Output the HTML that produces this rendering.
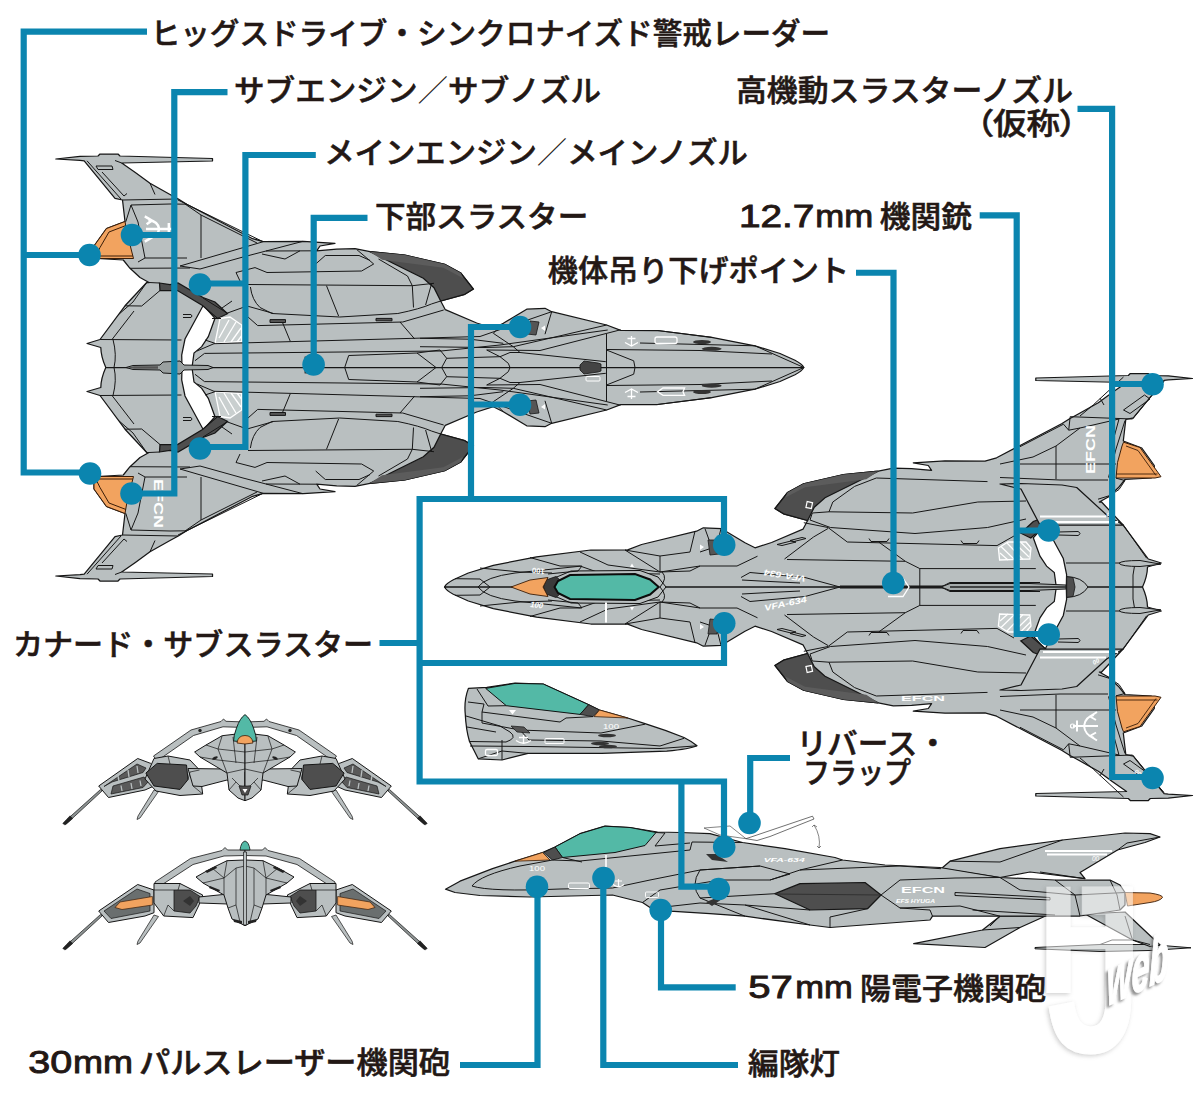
<!DOCTYPE html>
<html lang="ja">
<head>
<meta charset="utf-8">
<title>VFA-634 各部名称</title>
<style>
html,body{margin:0;padding:0;background:#fff;}
body{width:1200px;height:1103px;overflow:hidden;}
svg{display:block;}
.t{font-family:"Liberation Sans","Noto Sans CJK JP",sans-serif;font-weight:500;fill:#231815;stroke:#231815;stroke-width:0.55;}
.n{font-family:"Liberation Sans","Noto Sans CJK JP",sans-serif;font-weight:400;fill:#231815;stroke:#231815;stroke-width:0.9;}
.ld{fill:none;stroke:#0b85af;stroke-width:6.2;stroke-linejoin:miter;stroke-linecap:butt;}
.dot{fill:#0b85af;}
</style>
</head>
<body>
<svg width="1200" height="1103" viewBox="0 0 1200 1103">
<rect width="1200" height="1103" fill="#ffffff"/>
<!-- aircraft 1 : bottom view (top-left) -->
<defs>
<g id="hs">
<path fill="#b9bfc0" stroke="#161616" stroke-width="1.250" stroke-linejoin="round" d="M105.8 367.5Q101 357 100.8 347.5L87 343.5L100 339.5L125 305.8L146.7 282.5L149 282.5L140 277.5L130 268.3L123.3 260L97 258.5L94 252L94 246L106.5 228.5L125 221.5L122.5 200L115 198.3L84.2 160.8L80 160.3L55.8 159L80 156.3L98 156L100 154L118 154L120 156L212.5 158.5L212.5 161L121.7 163Q135 172 150 183.3L170 194.5L178.3 199L186.7 204.2L251.7 238.3L263.3 241.7L303.3 241.3L335 243.3L320 246L316.7 250.8L336.7 249.2L355 248.7L370 251.7L404.7 255L444.7 264.3L460.7 273L473.3 289L464.7 294.3L440.7 301L445.3 309.7L476.7 323L493.3 328.3L503.3 323.3L526.7 309.2L545 308.3L551.7 311.7L606.7 325L620.7 330.4L657.5 330.5L711.7 337.3L755 345.8L780 353.5L795 360.3Q802 364 803.8 367.5Z"/>
<!-- white gap -->
<path fill="#fff" stroke="#161616" stroke-width="1.250" d="M203.3 305.3L215 318.3L208.3 336.7L201.7 346.7L194 353L192 367.5L182 367.5L181.7 355L185 339Z"/>
<!-- dark strip -->
<path fill="#4e4e4e" stroke="#161616" stroke-width="1.250" d="M159.500 283L170 284.500L178 283L203 297.500L215 302L227.500 313.700L217.500 318.500L202.500 305.500L177.500 290.500L160 290.500Z"/>
<!-- nacelle dark tip -->
<path fill="#4e4e4e" stroke="#161616" stroke-width="1.250" d="M370 251.7L404.7 255L444.7 264.3L460.7 273L473.3 289L464.7 294.3L440.7 301L434 287.7L423.3 278.3L394 263.7Z"/>
<path fill="#5c5c5c" d="M370 251.7L404.7 255L444.7 264.3L460.7 273L463.3 278.3L443.3 267.7L382 259.7Z"/>
</g>
<g id="a1l">
<!-- orange pod -->
<path fill="#f2a35f" stroke="#3a1d08" stroke-width="1" d="M97 258.500L94 252L94 246L106.500 228.500L125 221.500L127 233L133.500 258.500Z"/>
<path fill="none" stroke="#3a1d08" stroke-width="1" d="M97 253.500L100 247.500L109 232L126 225.500M95 256L132.800 256"/>
<!-- hatched panel -->
<path fill="#c9cfcf" stroke="#fff" stroke-width="1.300" d="M220 318.500L230 317L241.700 325L241.700 341.500L215 343.300Z"/>
<path fill="none" stroke="#fff" stroke-width="1.300" d="M219 338L229 320M224 342L236 322M231 342L241 328M237 342L241.500 336"/>
<!-- panel lines -->
<g fill="none" stroke="#161616" stroke-width="1">
<path d="M87 160.800L121 199M121.700 163L115 160.500M96 166L112 166L113 169.500L98 169.500ZM102 172L124 196L127 193.500M150 183.300L155 194.500M122.500 200L178 199"/>
<path d="M125.800 221.700L131 205L170 204L186.700 204.200M131 205L138 222L145 258L138 262M145 258L187 258M185 204L201 215L201 258M130 268.300L190 268M149 282.500L159.500 283"/>
<path d="M178 200L263 241.700M201 215L257 243M180 266L263.300 241.700M180 266L200 269L243 257L266 251L303 241.300M266 251L316.700 250.800M262 254L285 259L300 250.800"/>
<path d="M236 272.500L255 267.600L267 272.500L361.600 271L373.700 264L356.700 249.500M315.700 264L325.300 255.500L359 255.500L370 260.400M236 272.500L240 281M248 284.500L412.300 285.700L434 283.300M250.400 287Q252 300 260 307.500L272 313.500L339.800 317L397.800 313.500Q420 309 431.700 303.900L440.700 301M326.500 285.700L338.600 316M378.500 259L407.500 276L412.300 285.700L413.500 307.500M431.700 283.300L425.600 305M248 317L257.700 325.600L402.700 322L443.700 310M281.800 320.800L290.300 341.300M400 322L414.700 339"/>
<path fill="#555" d="M270 319.600H285.500V322.500H270ZM376 318.400H392V320.800H376Z"/>
<path d="M197 351L214 343.700L480 336.500L551.700 311.700M195 360.700L204.500 353.400L441 351L500 345L607.700 330M190 367.500L803.800 367.500"/>
<path d="M125 305.800L141.700 306L160 290.500M118 315L133 302L146.700 282.500M100 339.500L181.500 340M113 339.500Q117 355 114 367.500M134 311L112 339.500M203 298L227 313M222 308L232 301"/>
<path d="M183 314.500L191 314.500Q193 316 191 317.500L183 317.500"/>
<path d="M226.700 313.300L247 306L273 313.300M212 318.500L221 318.500M205 340L215 343.300"/>

<path d="M344.700 367.500L348.700 355.500L417 353L436 367.500M417 353L440 350L446.700 358.300L500 356.700L508.300 363.300L510 367.500M441.700 367.500L446.700 358.300M500 356.700L510 352.500L520 352.500L605.800 361.700M486.700 350L500 356.700M513.300 346.700L520 352.500"/>
<path d="M503.300 323.300L493.300 333.300L513.300 346.700L606.700 325M551.700 311.700L545 334.200M420 338.300L470 339.200L503.300 343.300M420 346.700L485 347.500L513.300 346.700M606.500 334L606.500 367.500M620.500 329.800L540 350.500L486.700 350M606.500 350L633.700 360.800L635 367.500M606.500 349.500L700 350.500L772 354M657.500 330.500L711.700 337.300M640 343L755 345.800M755 345.800L803.800 367.500"/>
</g>
<!-- canard thruster slot -->
<path fill="#555" stroke="#161616" stroke-width="0.800" d="M530 321L539 322L536 335L527 334Z"/>
<path fill="#fff" d="M541 328L545 325.500L545 331Z"/>
</g>
</defs>
<use href="#hs"/><use href="#hs" transform="matrix(1 0 0 -1 0 735)"/>
<use href="#a1l"/><use href="#a1l" transform="matrix(1 0 0 -1 0 735)"/>
<!-- centre probe -->
<path fill="#9aa0a0" stroke="#161616" stroke-width="1" d="M126 367.500L133 365.500L160 365L163 362L180 361L184 365L208 365.500L213 367.500L208 369.500L184 370L180 374L163 373L160 370L133 369.500Z"/>
<path fill="#555" d="M128 367.500L134 366.300L158 366.300L158 368.700L134 368.700Z"/>
<!-- markings -->
<g fill="#fff" font-family="Liberation Sans,sans-serif" font-weight="700">
<text x="0" y="0" font-size="12" transform="translate(153.700 479) rotate(90)" textLength="49" lengthAdjust="spacingAndGlyphs">EFCN</text>

</g>
<rect x="305" y="357" width="12" height="16" fill="#555" stroke="#161616" stroke-width="0.800"/>
<g fill="#333"><ellipse cx="702" cy="342" rx="9" ry="2"/><ellipse cx="711.700" cy="348.800" rx="10" ry="2"/><ellipse cx="711.700" cy="385.700" rx="10" ry="2"/><ellipse cx="702" cy="392" rx="9" ry="2"/></g>
<g fill="none" stroke="#fff" stroke-width="1.300"><path d="M631.500 336V346M627.500 338.500H635.500M625 342.500L631.500 346L638 342.500M631.500 389V399M627.500 396.500H635.500M625 392.500L631.500 389L638 392.500"/>
<rect x="655" y="337" width="22" height="6.500" rx="2"/><path d="M657.500 391.700L663 388H684.600L683 391.700L684.600 395.400H663Z"/><rect x="586" y="376.500" width="14" height="4.500" rx="1" stroke-width="1"/></g>
<path fill="#444" stroke="#161616" stroke-width="0.800" d="M580 365L584 361L598 363L601 364L601 371L598 372L584 374L580 370Z"/>
<g fill="none" stroke="#fff" stroke-width="2" transform="translate(158 229) scale(1.2) translate(-156 -236)"><path d="M146 236H168M165 231V241M148 228.500Q156 229.500 157 236Q156 242.500 148 243.500M145 225.500L151 229L146.500 232M145 246.500L151 243L146.500 240"/></g>
<!-- aircraft 2 : top view (right) -->
<defs>
<g id="a2l">
<!-- second fin -->
<path fill="#b9bfc0" stroke="#161616" stroke-width="1.250" stroke-linejoin="round" d="M1000 484L1021 483.500L1062 485L1076.700 487.500L1106.700 515L1123.300 525L1040 525L1021 489Z"/>
<path fill="none" stroke="#fff" stroke-width="2.200" d="M1040 516.500L1106 516.500M1043 522L1118 522"/>
<!-- bigger orange pod -->
<path fill="#f2a35f" stroke="#3a1d08" stroke-width="1" stroke-linejoin="round" d="M1123.500 442.200L1140 447.500L1161 476.700L1155 478L1116 478L1117.500 462.500L1122 446Z"/>
<path fill="none" stroke="#3a1d08" stroke-width="0.900" d="M1126 446L1138 450.500L1156 475.500M1116.500 474L1157.500 474"/>
<!-- hatched panel -->
<path fill="#c9cfcf" stroke="#fff" stroke-width="1.300" d="M998.400 548L1008 542L1026 542L1031 548L1029.800 559L999.600 560Z"/>
<path fill="none" stroke="#fff" stroke-width="1.200" d="M1000 553L1008 560M1001 546.500L1015 560M1007 543L1023 559.500M1014 542.500L1029 557M1021 542.500L1030.500 552"/>
<rect x="806.500" y="502" width="5.500" height="6" fill="none" stroke="#fff" stroke-width="1.200" transform="rotate(12 809 505)"/>
<!-- panel lines -->
<g fill="none" stroke="#161616" stroke-width="1">
<path d="M1123.500 377L1093.500 404.700L1080 416M1164 381.500L1150.500 397L1132.500 419M1123.500 410L1144.500 395L1150 399L1130 413.500ZM1100 398L1104 405"/>
<path d="M1070.200 416.700L1132.500 419M1070.200 416.700L1068.700 430.200L1063.500 424.200L1020 446.700M1068.700 430.200L1080 428L1119 419M1125 420.500L1116 449L1108.500 477.500M1119 419L1113 441L1110 462M1080 428L1056 446L1056 479M1020 464L1116 464M1056 446L1033 457L1000 464"/>
<path d="M1116 478.200L1125 480.500L1119 489.500L1110 495.500L1098 499.200M1000 477.500L1060 480L1108 480"/>
<path d="M854.600 486.400L876.300 478L987.500 481.600M854.600 486.400L832.800 502L829 511.800L912.600 513L977.800 502L1026 501M829 511.800L812.300 513L810 520M810 520L830.400 527.500L915 533.500L987.500 527.500L1026 519M803.800 522.700L828 527.500L847.300 542L997 545.600L1014 536M784.500 559L813.500 537L828 528.500M878.700 542L905.300 561.300M777 544.500L791 541L796 542L782 545.500ZM790 540.500L802 537.500L806 538.500L794 541.500ZM869 538.500L871 541.500L887 541.500L889 538.500M961 540.500L963 543.500L977 543.500L979 540.500"/>
<path d="M787 559.500L905.300 561.300L919.800 568.600L919.800 587M919.800 568.600L1035.800 568.600M757.500 556.200L737 566L700 566L660 572M741 577.500L750 572.500L805 577.500L840 587M742 580L760 581L800 583M840 587L941 587M941 587L950 582.500L1040 582.500M840 586L1066 586"/>

<path d="M705 528.700L712 548L700 552M721 528.700L716 548M695 531.200L690 552L660 556L625 550M660 556L660 572L690 571L700 566M625 550L660 572M580 552L608 565L660 572M530 557.500L560 566L580 566L600 573L660 574M480 568L520 572L552 573M455 578.700L480 579L490 587"/>
<path d="M1123.300 525L1146.700 558.300M1146.700 563L1066 563M1135 563Q1132 575 1133 587"/>
<path d="M1119 563.300Q1121 560.500 1140 560.500L1160.800 564.200L1140 566.500Q1121 566.500 1119 563.300Z" fill="#b9bfc0"/>
<path d="M1058 532L1078 531.500Q1082 533.500 1078 535.500L1058 535"/>
</g>
<path fill="#555" stroke="#161616" stroke-width="0.800" d="M708 540L717 540L719 554L710 555Z"/>
<path fill="#fff" d="M704 547L700 544.500L700 550Z"/>
<path fill="#fff" d="M630 567L634 567L632 563.500Z"/>
</g>
</defs>
<use href="#hs" transform="matrix(-1 0 0 1 1248.300 219.500)"/><use href="#hs" transform="matrix(-1 0 0 -1 1248.300 954.500)"/>
<use href="#a2l"/><use href="#a2l" transform="matrix(1 0 0 -1 0 1174)"/>
<!-- canopy -->
<path fill="#b9bfc0" stroke="#111" stroke-width="1" d="M548 587L552 579L571 571L640 570.500L658 577L666 587L658 597L640 603.500L571 603L552 595Z"/>
<path fill="#3a3a3a" stroke="#111" stroke-width="0.800" d="M543.500 587L546 580L556 576.500L560 580L555 587L560 594L556 597.500L546 594Z"/>
<path fill="#53b9a6" stroke="#0c0c0c" stroke-width="2" d="M554.500 587L558 581L570 575L635 574L650 579.500L658.700 587L650 594.500L635 600L570 599L558 593Z"/>
<path fill="#f2a35f" stroke="#3a1d08" stroke-width="0.900" d="M511 587L530 580L548 577.500L543 587L548 596.500L530 594Z"/>
<path fill="none" stroke="#161616" stroke-width="1" d="M478 587Q485 577 515 573L582 566L578 571L548 574M478 587Q485 597 515 601L582 608L578 603L548 600M660 587Q668 578 662 572M660 587Q668 596 662 602"/>
<!-- centre probe & dark cap -->
<path fill="#a5abab" stroke="#161616" stroke-width="1" d="M941 587L950 583.500L1030 583.500L1066 585L1066 589L1030 590.500L950 590.500Z"/>
<path fill="none" stroke="#222" stroke-width="1.600" d="M950 587L1066 587"/>
<path fill="#b9bfc0" stroke="#161616" stroke-width="1" d="M1066.700 576.700Q1082 577 1088 587Q1082 597 1066.700 597.300Z"/>
<path fill="#4e4e4e" stroke="#161616" stroke-width="0.800" d="M1066.700 576.700L1073 577.500L1075 587L1073 596.500L1066.700 597.300Z"/>
<!-- hoist point -->
<path fill="none" stroke="#fff" stroke-width="1.300" d="M888 578.500H903L909 587L903 596.500H888"/>
<!-- markings -->
<path fill="none" stroke="#fff" stroke-width="2" d="M606 602.500V622.500"/>
<g fill="#fff" font-family="Liberation Sans,sans-serif" font-weight="700" font-style="italic">
<text font-size="8.500" transform="translate(806 576) rotate(189)" textLength="42" lengthAdjust="spacingAndGlyphs">VFA-634</text>
<text font-size="8.500" transform="translate(765 611) rotate(-12)" textLength="43" lengthAdjust="spacingAndGlyphs">VFA-634</text>
</g>
<g fill="#fff" font-family="Liberation Sans,sans-serif" font-weight="700">
<text font-size="12" transform="translate(1094.500 474) rotate(-90)" textLength="49" lengthAdjust="spacingAndGlyphs">EFCN</text>
<text font-size="7.500" x="901" y="700.500" textLength="44" lengthAdjust="spacingAndGlyphs">EFCN</text>
<text font-size="6" font-style="italic" transform="translate(1157 415) rotate(-50)">00</text>
<text font-size="6" font-style="italic" transform="translate(1106 515) rotate(35)">00</text>
<text font-size="6" font-style="italic" transform="translate(1094 665) rotate(-30)">00</text>
<text font-size="6" font-style="italic" transform="translate(1134 772) rotate(40)">00</text>
<text font-size="8" transform="translate(545 569) rotate(186)" textLength="13" lengthAdjust="spacingAndGlyphs">100</text>
<text font-size="8" font-style="italic" transform="translate(530 607) rotate(6)" textLength="13" lengthAdjust="spacingAndGlyphs">100</text>
</g>
<!-- anchor mark -->
<g fill="none" stroke="#fff" stroke-width="2"><path d="M1073 726H1098M1077 720.500V731.500M1094 715Q1085 717 1084 726Q1085 735 1094 738M1097 712L1090 716.500L1096 720M1097 740.500L1090 736L1096 732.500"/></g>
<circle cx="1072.500" cy="726" r="2" fill="none" stroke="#fff" stroke-width="1.200"/>
<!-- aircraft 3 : cockpit close-up -->
<g stroke-linejoin="round">
<path fill="#b9bfc0" stroke="#161616" stroke-width="1.250" d="M468.400 688.400Q464 700 465.200 713.300Q466 730 469.500 741.500L478.200 758.800L502 760L528 753.400L601.700 753.400L666.700 751.200Q690 749 697 745.800Q692 741.500 684 737.500Q665 730 645 723.700L627.700 718L599.500 710L588.700 704.700L543.200 684L515 683L486.800 687.300Z"/>
<path fill="#53b9a6" stroke="#111" stroke-width="1" d="M485.700 688.400L515 683.400L543.200 684L588.700 704.700L580 714.400L506.300 705.700Z"/>
<path fill="#4e4e4e" stroke="#111" stroke-width="0.800" d="M588.700 704.700L599.500 710L593 716.600L580 714.400Z"/>
<path fill="#f2a35f" stroke="#3a1d08" stroke-width="0.800" d="M599.500 710L627.700 718L594 716.600Z"/>
<g fill="none" stroke="#161616" stroke-width="1">
<path d="M477 689L488 706L506.300 705.700M468 702L484 704L482 712L560 722L566 718L593 716.600M482 712L482 723L520 730L601 733L645 724.200M466 716L500 726L510 732Q518 738 506 742L469.500 741.500M467 727L496 732M520 730L529 740L601 741L660 746L684 738.300M470 746L530 746.500L660 748.500L697 745.800M502 760L502 740M478.200 758.800L502 751L528 753.400"/>
</g>
<path fill="#555" stroke="#161616" stroke-width="0.700" d="M511 726L524 727L530 733L517 732Z"/>
<ellipse cx="607" cy="735.500" rx="9" ry="1.800" fill="#333"/><ellipse cx="600" cy="743.500" rx="9" ry="1.800" fill="#333"/><ellipse cx="608" cy="746.500" rx="9" ry="1.800" fill="#333"/>
<path fill="#fff" d="M509 710L516 710L512.500 714.500Z"/>
<rect x="485.500" y="749.500" width="12" height="6" rx="1.500" fill="none" stroke="#fff" stroke-width="1.300"/>
<rect x="545" y="738.500" width="19" height="5" rx="1" fill="none" stroke="#fff" stroke-width="1"/>
<g fill="none" stroke="#fff" stroke-width="1.300"><path d="M523.500 735V743M519 737.500H528M516 740.500Q523.500 746 531 740.500"/></g>
<text x="603" y="728.500" font-family="Liberation Sans,sans-serif" font-size="8" fill="#fff" textLength="16" lengthAdjust="spacingAndGlyphs">100</text>
</g>
<!-- aircraft 4 : side view -->
<g stroke-linejoin="round">
<!-- blade -->
<path fill="#b9bfc0" stroke="#161616" stroke-width="1" d="M1035 947.500L1100 944.500L1150 944.500L1191 947.800L1150 950.500L1100 951.500L1035 948.800Z"/>
<!-- ventral fin -->
<path fill="#b9bfc0" stroke="#161616" stroke-width="1.250" d="M1000 916.200L1045 916.200L1020 927.500L985 947.500L913.700 943.700L982.500 930Z"/>
<!-- tail lower fin -->
<path fill="#b9bfc0" stroke="#161616" stroke-width="1.250" d="M1085 914L1125 912L1160 945L1150 946.500L1132.500 940Z"/>
<!-- upper fin -->
<path fill="#b9bfc0" stroke="#161616" stroke-width="1.250" d="M941.200 868.700L950 861.200L1000 848.700L1062.500 840L1125 833L1150 833.700L1160 837L1145 842.500L1117.500 850L1080 872.500L1085 878.700L1030 872L1000 877.500Z"/>
<!-- body -->
<path fill="#b9bfc0" stroke="#161616" stroke-width="1.250" d="M445.500 889.200L460 881.200L492.500 868.700L515 861.200L542.500 852.500L555 847L580 833.700L605 826.200L630 827.500L657.500 832L680 832.500L710 833.700L742.500 842.500L785 848.700L835 857.500L842.500 860L885 865L940 867.500L1000 877.500L1055 880L1110 880L1120 885L1125 892.500L1125 905L1120 910L1080 916L1000 916.200L932.500 916.200L930 920L830 927.500L810 925L745 916.200L710 913.700L670 911.200L650 907.500L642.500 902.500L612.500 895L530 897L480 895.500L455 892.500Z"/>
<!-- orange nozzle -->
<path fill="#f2a35f" stroke="#3a1d08" stroke-width="0.900" d="M1125 892.500L1150 893Q1163 895 1162.500 897.500Q1160 901 1150 902.500L1127.500 906Z"/>
<!-- canopy -->
<path fill="#53b9a6" stroke="#111" stroke-width="1" d="M555 847L580 833.700L605 826.200L630 827.500L656 832.500L645 845.500L615 852.500L562.500 857.500Z"/>
<path fill="#4e4e4e" stroke="#111" stroke-width="0.800" d="M543.700 852.500L555 847L562.500 857.500L552.500 860Z"/>
<path fill="#f2a35f" stroke="#3a1d08" stroke-width="0.800" d="M515 861.200L542.500 852.500L550 860Z"/>
<!-- dark intake -->
<path fill="#4e4e4e" stroke="#161616" stroke-width="1.250" d="M775 893.700L800 883.700L865 882.500L881 895L867.500 908.700L810 910Z"/>
<path fill="none" stroke="#2a2a2a" stroke-width="0.800" d="M775 894L881 895"/>
<g fill="none" stroke="#161616" stroke-width="1">
<path d="M472 886Q480 875 520 866L552.500 860L580 861L600 859L690 850L692 842L742.500 842.500M472 886Q490 892 560 889L612.500 888L650 880L700 870L760 866M656 832.500L665 833L655 846L690 843M562.500 857.500L582 862"/>
<path d="M642.500 902.500L660 890L720 880L770 880L800 870L842.500 860M700 870Q690 885 700 898L745 916.200M700 870L760 866L790 874L770 880M700 898L775 893.700M660 907.500L700 903L745 905L810 925"/>
<path d="M800 870L900 866L941 868.700M881 895L900 880L955 878L1000 877.500M881 895L900 908L930 910L932.500 916.200M867.500 908.700L830 917L830 927.500M810 910L745 905M900 908L960 906L1000 916.200"/>
<path d="M955 892.500L1050 897.500L1050 900L955 895.500ZM972.500 910L1055 915M1055 880L1075 895L1080 916M1075 895L1125 892.500M1110 880L1117 895L1120 910M1000 877.500L1020 890L1075 895"/>
<path d="M950 861.200L1000 862L1062.500 840M1117.500 850L1127 843L1160 837M1040 872L1085 878.700M982.500 930L1020 927.500M1000 916.200L990 926"/>
<path d="M1132.500 940L1125 916M1100 944.500L1112 940L1132.500 940L1150 944.500"/>
</g>
<!-- reverse flap outline -->
<path fill="#fff" stroke="#333" stroke-width="0.700" d="M746 838.700L812.500 816.200L814 819L770 836.500L757 840.500Z"/>
<path fill="none" stroke="#333" stroke-width="0.600" d="M704 828L730 826L746 838.700L720 835ZM814 825Q821 836 819 848M812 827L814 825L817 827M817 846L819 848L821 846"/>
<!-- thruster slits -->
<path fill="#333" d="M706 854L716 854L728 862L712 860ZM706 902L716 898L722 899L712 906Z"/>
<!-- fin stripes -->
<path fill="none" stroke="#fff" stroke-width="1.800" d="M1045 851L1112 851M1047 854.500L1107 854.500"/>
<path fill="none" stroke="#fff" stroke-width="1.600" d="M606 855V867"/>
<g fill="#fff" font-family="Liberation Sans,sans-serif" font-weight="700">
<text x="901" y="892.500" font-size="8.500" textLength="44" lengthAdjust="spacingAndGlyphs">EFCN</text>
<text x="896" y="902.500" font-size="5.500" font-style="italic" textLength="39" lengthAdjust="spacingAndGlyphs">EFS HYUGA</text>
<text x="763.700" y="861.500" font-size="5.500" font-style="italic" textLength="41" lengthAdjust="spacingAndGlyphs">VFA-634</text>
<text x="1092" y="861" font-size="6.500" font-style="italic" font-weight="400">00</text>
<text x="529" y="870.700" font-size="8" font-weight="400" textLength="16" lengthAdjust="spacingAndGlyphs">100</text>
</g>
<rect x="645.500" y="892" width="13" height="5.500" rx="1" fill="none" stroke="#fff" stroke-width="0.900"/>
<rect x="568.500" y="883" width="21" height="5.500" rx="1.500" fill="none" stroke="#fff" stroke-width="1"/>
<g fill="none" stroke="#fff" stroke-width="1.200"><path d="M618.500 879V887M615 881H622M613 884.500Q618.500 889 624 884.500"/></g>
</g>
<!-- aircraft 5 : front view -->
<defs>
<g id="a5h" stroke-linejoin="round">
<!-- arm -->
<path fill="#b9bfc0" stroke="#161616" stroke-width="0.800" d="M245 722L226 721.300L223.500 719L221 721.500L191 730L153.500 756L157 761L193.500 735.500L223 726.800L245 727.500Z"/>
<circle cx="200" cy="730.500" r="1.700" fill="#222"/>
<!-- probes -->
<path fill="#8d9393" stroke="#161616" stroke-width="0.700" d="M100.500 789.500L67 819.500L63 823.500L65 825L69 821.500L102 791Z"/>
<path fill="#222" d="M70 815.500L73 818.500L66 824.500L62.500 823.500Z"/>
<path fill="#b9bfc0" stroke="#161616" stroke-width="0.700" d="M154 790L138 816L137 819.500L140 818L158.500 791.500Z"/>
<!-- outer pod -->
<path fill="#b9bfc0" stroke="#161616" stroke-width="1" d="M98.700 786L137.700 758.500L150.700 763.400L158 770L154 786L145 790L108.500 797.500Z"/>
<path fill="#5a5a5a" stroke="#161616" stroke-width="0.700" d="M104 786.500L137 764L146 768L143 772.500L112 782ZM113 786L144 777L148 782L143 787.500L111 794Z"/>
<path fill="none" stroke="#b9bfc0" stroke-width="1.300" d="M118 776L119 781M128 770L129 777M137 766L138 773M121 785.500L122 791M131 783L132 789M140 780.500L141 786"/>
<!-- nacelle -->
<path fill="#b9bfc0" stroke="#161616" stroke-width="1" d="M154 758.500L168 756L190 760L199.500 770L202.700 794L180 795.500L156 791L145 779Z"/>
<path fill="#4e4e4e" stroke="#161616" stroke-width="1" d="M145.900 773L157.200 763.400L186.500 765L188 779.600L180 789.400L154 786Z"/>
<!-- wing root -->
<path fill="#b9bfc0" stroke="#161616" stroke-width="1" d="M188 768.500L227 769L245 772L245 790L227 780L202 786.500L193 786Z"/>
<!-- fuselage -->
<path fill="#b9bfc0" stroke="#161616" stroke-width="1" d="M245 733L222.200 735.700L206 745L194.600 752L200 757L227 773L229 790L238 798L245 800.700Z"/>
<g fill="none" stroke="#161616" stroke-width="0.700">
<path d="M222.200 735.700L218 749L227 773M206 745L218 749L245 752M200 757L218 760L245 763M233 737L236 763M227 773L245 769M232 778L240 786L245 787M229 790L236 782"/>
<path d="M199.500 770L190 772L188 779.600M168 756L170 764M202.700 794L193 786"/>
</g>
<ellipse cx="215" cy="758" rx="3" ry="1.300" fill="#222" transform="rotate(-25 215 758)"/>
</g>
</defs>
<use href="#a5h"/><use href="#a5h" transform="matrix(-1 0 0 1 490 0)"/>
<path fill="#53b9a6" stroke="#111" stroke-width="0.900" d="M245 714.600Q240 718 236.500 728Q233.500 736 233.600 741L245 742L256.400 741Q256.500 736 253.500 728Q250 718 245 714.600Z"/>
<path fill="#f2a35f" stroke="#3a1d08" stroke-width="0.800" d="M237 743Q238 735.500 245 735.500Q252 735.500 253 743Q245 745 237 743Z"/>
<path fill="#4e4e4e" stroke="#161616" stroke-width="0.700" d="M239 786L251 786L248 795L242 795Z"/>
<path fill="#fff" d="M242.500 789L247.500 789L245 793Z"/>
<!-- aircraft 6 : rear view -->
<defs>
<g id="a6h" stroke-linejoin="round">
<!-- arch -->
<path fill="#b9bfc0" stroke="#161616" stroke-width="0.800" d="M245 850L227.500 850L225 847.500L222 850.500L190.500 858.500L155 882L155 893L160 893L160 886L193 864.500L224 856L245 855.500Z"/>
<!-- probes -->
<path fill="#8d9393" stroke="#161616" stroke-width="0.700" d="M100.500 914.500L67 944.500L63 948.500L65 950L69 946.500L102 916Z"/>
<path fill="#222" d="M70 940.500L73 943.500L66 949.500L62.500 948.500Z"/>
<path fill="#b9bfc0" stroke="#161616" stroke-width="0.700" d="M154 915L138 941L137 944.500L140 943L158.500 916.500Z"/>
<!-- outer pod -->
<path fill="#b9bfc0" stroke="#161616" stroke-width="1" d="M98.700 911L137.700 884.500L154 890L154 912.700L145 916L108.500 922.500Z"/>
<path fill="#6a6f6f" stroke="#161616" stroke-width="0.700" d="M104 911L137 889L150 893.500L150 911L111 918.500Z"/>
<path fill="#f2a35f" stroke="#3a1d08" stroke-width="0.700" d="M120 902L152.400 896.500L152.400 905L122 909.500L115 907.500Z"/>
<!-- nacelle -->
<path fill="#b9bfc0" stroke="#161616" stroke-width="1" d="M154 883.500L180 883.500L202.700 895L199 905L193 917.600L163.700 916L154 903Z"/>
<path fill="#4e4e4e" stroke="#161616" stroke-width="0.800" d="M174 890L190 890L200 896.500L196 906L190 913L174 911Z"/>
<path fill="#333" d="M183 901L190 896L194 901L190 906Z"/>
<!-- wing root -->
<path fill="#b9bfc0" stroke="#161616" stroke-width="1" d="M199 897L228 894L245 896L245 906L228 904L199 903Z"/>
<!-- fuselage -->
<path fill="#b9bfc0" stroke="#161616" stroke-width="1" d="M245 860L227 860.700L212 868L196 877L203 883L224 895L228 908L232 919L245 925.700Z"/>
<g fill="none" stroke="#161616" stroke-width="0.700">
<path d="M227 860.700L224 878L224 895M212 868L224 878L236 868L245 866M203 883L224 878M236 868L236 905L240 922M228 908L236 905"/>
<path d="M154 890L163 890L174 890M163.700 916L168 905L174 911M180 883.500L178 890"/>
</g>
<path fill="#222" d="M205 871L216 866L217 868L207 873ZM210 886L220 890L219 892L209 888ZM233 919L242 921L242 924L234 922Z"/>
</g>
</defs>
<use href="#a6h"/><use href="#a6h" transform="matrix(-1 0 0 1 490 0)"/>
<path fill="#53b9a6" stroke="#111" stroke-width="0.800" d="M240 850Q241 842 245 841Q249 842 250 850Z"/>
<path fill="#b9bfc0" stroke="#161616" stroke-width="0.700" d="M243.500 852L246.500 852L246.500 925L243.500 925Z"/>
<!-- leader lines -->
<g class="ld">
<path d="M147 31.7H23.7V472.5H89M23.7 255H89"/>
<path d="M227.5 92.1H174.3V493.5H132M174.3 235H132"/>
<path d="M315.8 155H245.4V447H200M245.4 283.5H200"/>
<path d="M367.5 217.9H313.7V364"/>
<path d="M520 327H471V499M471 404.5H520"/>
<path d="M379.5 643H419.6M724 544.7V499H419.6V781.5H724V846.7M419.6 663H724V623M681.4 781.5V886.7H718.7"/>
<path d="M790 758H750.2V823"/>
<path d="M1077.5 108.8H1112.1V777H1152.5M1112.1 384H1152.5"/>
<path d="M979.7 215.4H1016.7V634H1048.7M1016.7 530.5H1048.7"/>
<path d="M856 272.75H893.5V583"/>
<path d="M460 1065H537.5V887"/>
<path d="M738 1065H603.3V878"/>
<path d="M735.7 987.4H661V910"/>
</g>
<g class="dot">
<circle cx="89.5" cy="255" r="11.3"/><circle cx="132" cy="235" r="11.3"/>
<circle cx="90" cy="473.5" r="11.3"/><circle cx="131.5" cy="493.5" r="11.3"/>
<circle cx="200" cy="284.5" r="11.3"/><circle cx="200" cy="448.5" r="11.3"/>
<circle cx="313.6" cy="364.5" r="11.3"/>
<circle cx="520" cy="327" r="11.3"/><circle cx="520" cy="404.7" r="11.3"/>
<circle cx="724.2" cy="544.7" r="11.3"/><circle cx="724.2" cy="623.2" r="11.3"/>
<circle cx="724.2" cy="846.7" r="11.3"/><circle cx="718.7" cy="889" r="11.3"/>
<circle cx="749.5" cy="823" r="11.3"/>
<circle cx="1152.5" cy="384.2" r="11.3"/><circle cx="1152.5" cy="778" r="11.3"/>
<circle cx="1048.7" cy="530.5" r="11.3"/><circle cx="1048.7" cy="634.5" r="11.3"/>
<circle cx="893.3" cy="583" r="11.3"/>
<circle cx="537" cy="886.7" r="11.3"/><circle cx="603.5" cy="878" r="11.3"/><circle cx="660.7" cy="910" r="11.3"/>
</g>
<!-- labels -->
<g>
<text id="t1" class="t" x="150.7" y="44.2" font-size="30" textLength="679.5" lengthAdjust="spacingAndGlyphs">ヒッグスドライブ・シンクロナイズド警戒レーダー</text>
<text id="t2" class="t" x="234.0" y="101.0" font-size="30" textLength="367.0" lengthAdjust="spacingAndGlyphs">サブエンジン<tspan font-weight="300" stroke="none">／</tspan>サブノズル</text>
<text id="t3" class="t" x="324.2" y="163.2" font-size="30" textLength="423.8" lengthAdjust="spacingAndGlyphs">メインエンジン<tspan font-weight="300" stroke="none">／</tspan>メインノズル</text>
<text id="t4" class="t" x="375.0" y="227.0" font-size="30" textLength="213.2" lengthAdjust="spacingAndGlyphs">下部スラスター</text>
<text id="t5" class="t" x="736.0" y="101.0" font-size="30" textLength="337.0" lengthAdjust="spacingAndGlyphs">高機動スラスターノズル</text>
<text id="t6" class="t" x="976.2" y="134.0" font-size="29.5" style="font-feature-settings:'palt'" textLength="100.6" lengthAdjust="spacingAndGlyphs">（仮称）</text>
<text id="t7a" class="n" x="738.9" y="227.0" font-size="32" textLength="75.5" lengthAdjust="spacingAndGlyphs">12.7</text>
<text id="t7m" class="n" x="815.2" y="227.0" font-size="32" textLength="57.9" lengthAdjust="spacingAndGlyphs">mm</text>
<text id="t7b" class="t" x="879.8" y="227.2" font-size="30" textLength="92.2" lengthAdjust="spacingAndGlyphs">機関銃</text>
<text id="t8" class="t" x="547.8" y="281.0" font-size="30" textLength="301.3" lengthAdjust="spacingAndGlyphs">機体吊り下げポイント</text>
<text id="t9" class="t" x="13.0" y="655.0" font-size="30" textLength="360.1" lengthAdjust="spacingAndGlyphs">カナード・サブスラスター</text>
<text id="t10" class="t" x="796.4" y="754.0" font-size="30" textLength="151.7" lengthAdjust="spacingAndGlyphs">リバース・</text>
<text id="t11" class="t" x="802.9" y="783.0" font-size="30" textLength="108.1" lengthAdjust="spacingAndGlyphs">フラップ</text>
<text id="t12a" class="n" x="748.2" y="998.4" font-size="32" textLength="44.6" lengthAdjust="spacingAndGlyphs">57</text>
<text id="t12m" class="n" x="795.3" y="998.4" font-size="32" textLength="57.5" lengthAdjust="spacingAndGlyphs">mm</text>
<text id="t12b" class="t" x="860.0" y="999.0" font-size="30" textLength="186.0" lengthAdjust="spacingAndGlyphs">陽電子機関砲</text>
<text id="t13" class="t" x="748.0" y="1074.0" font-size="30" textLength="92.0" lengthAdjust="spacingAndGlyphs">編隊灯</text>
<text id="t14a" class="n" x="28.2" y="1073.4" font-size="32" textLength="44.0" lengthAdjust="spacingAndGlyphs">30</text>
<text id="t14m" class="n" x="73.0" y="1073.4" font-size="32" textLength="59.9" lengthAdjust="spacingAndGlyphs">mm</text>
<text id="t14b" class="t" x="139.0" y="1072.8" font-size="30" textLength="311.0" lengthAdjust="spacingAndGlyphs">パルスレーザー機関砲</text>
</g>
<!-- watermark logo -->
<defs>
<filter id="wsh" x="-20%" y="-20%" width="140%" height="140%">
<feDropShadow dx="-1.500" dy="1.500" stdDeviation="2" flood-color="#555" flood-opacity="0.550"/>
</filter>
<filter id="wsh2" x="-20%" y="-20%" width="140%" height="140%">
<feDropShadow dx="-2.500" dy="2.500" stdDeviation="1.200" flood-color="#666" flood-opacity="0.700"/>
</filter>
</defs>
<g font-family="Liberation Sans,sans-serif" font-weight="700" fill="#fff" stroke="#fff" filter="url(#wsh)" opacity="0.520">
<text transform="translate(1039 991) scale(0.950 1)" font-size="148" stroke-width="4">H</text>
<text transform="translate(1046.400 1051.600) scale(0.720 1)" font-size="240" stroke-width="1">J</text>
</g>
<g font-family="Liberation Sans,sans-serif" font-weight="700" font-style="italic" filter="url(#wsh2)">
<text transform="translate(1107 1006) skewY(-25) scale(0.480 1)" font-size="66" fill="#fff" stroke="#fff" stroke-width="1.500">web</text>
</g>
</svg>
</body>
</html>
